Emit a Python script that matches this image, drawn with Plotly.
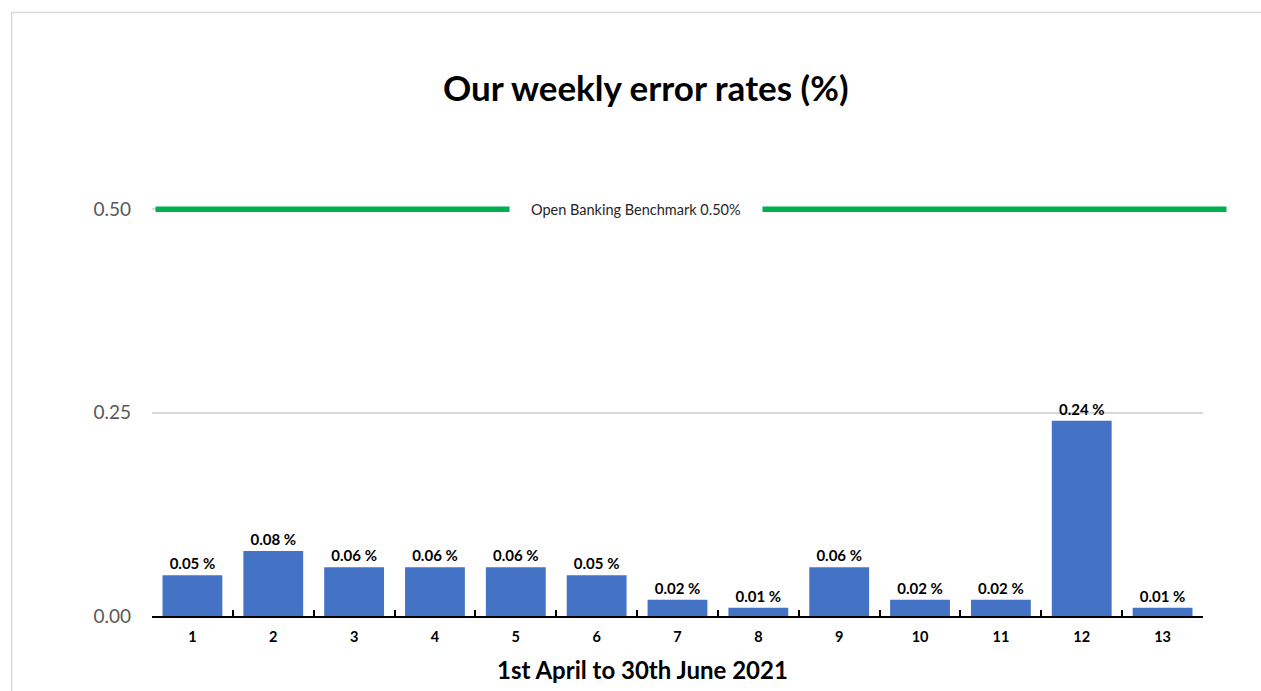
import plotly.graph_objects as go

weeks = [str(i) for i in range(1, 14)]
error_rates = [0.05, 0.08, 0.06, 0.06, 0.06, 0.05, 0.02, 0.01, 0.06, 0.02, 0.02, 0.24, 0.01]
benchmark = 0.50
benchmark_label = "Open Banking Benchmark 0.50%"
y_ticks = [0.0, 0.25, 0.5]
y_max = 0.52
title = "Our weekly error rates (%)"
x_title = "1st April to 30th June 2021"

W, H = 1261, 691
PX_PER_UNIT = 814.0
L, R, B = 151.5, 57.5, 75
T = (H - B) - PX_PER_UNIT * y_max
pw = W - L - R
ph = H - T - B

def px_x(p):
    return (p - L) / pw

def px_y(p):
    return (H - B - p) / ph

FONT = "Lato, Calibri, Arial, sans-serif"

fig = go.Figure()
fig.add_trace(go.Bar(
    x=weeks, y=error_rates,
    marker=dict(color="#4472C4", line=dict(width=0)),
    texttemplate="%{y:.2f} %",
    textposition="outside",
    textfont=dict(family=FONT, size=15, color="#000000", weight="bold"),
    cliponaxis=False,
))

fig.add_shape(type="line", xref="paper", yref="y",
              x0=px_x(155), x1=px_x(1227), y0=benchmark, y1=benchmark,
              line=dict(color="#00B050", width=5.5), layer="above")
fig.add_annotation(xref="paper", yref="y", x=px_x(636), y=benchmark,
                   text=benchmark_label, showarrow=False,
                   font=dict(family=FONT, size=14.5, color="#262626"),
                   bgcolor="white", borderpad=21, xanchor="center", yanchor="middle")

# outer chart border
fig.add_shape(type="rect", xref="paper", yref="paper",
              x0=px_x(11), x1=px_x(1400), y0=px_y(900), y1=px_y(12),
              line=dict(color="#D9D9D9", width=1.5), layer="below")

fig.add_annotation(xref="paper", yref="paper", x=px_x(646), y=px_y(87),
                   text="<b>" + title + "</b>", showarrow=False,
                   font=dict(family=FONT, size=35, color="#000000"),
                   xanchor="center", yanchor="middle")
fig.add_annotation(xref="paper", yref="paper", x=px_x(642), y=px_y(670),
                   text="<b>" + x_title + "</b>", showarrow=False,
                   font=dict(family=FONT, size=24, color="#000000"),
                   xanchor="center", yanchor="middle")

fig.update_layout(
    width=W, height=H,
    margin=dict(l=L, r=R, t=T, b=B, autoexpand=False),
    plot_bgcolor="white", paper_bgcolor="white",
    showlegend=False, bargap=0.26,
    font=dict(family=FONT),
)
fig.update_xaxes(
    type="category", showline=True, linecolor="#000000", linewidth=2,
    ticks="inside", ticklen=6, tickwidth=2, tickcolor="#000000",
    tickson="boundaries", showgrid=False, ticklabelstandoff=7,
    tickfont=dict(family=FONT, size=14.5, color="#000000", weight="bold"),
)
fig.update_yaxes(
    range=[0, y_max], tickvals=y_ticks, ticktext=[f"{v:.2f}" for v in y_ticks],
    showgrid=True, gridcolor="#D9D9D9", gridwidth=1.5, zeroline=False,
    showline=False, ticks="", ticklabelstandoff=20,
    tickfont=dict(family=FONT, size=19, color="#595959"),
)

fig.write_html("out.html", config={"displayModeBar": False},
               post_script="document.body.style.margin='0';")
